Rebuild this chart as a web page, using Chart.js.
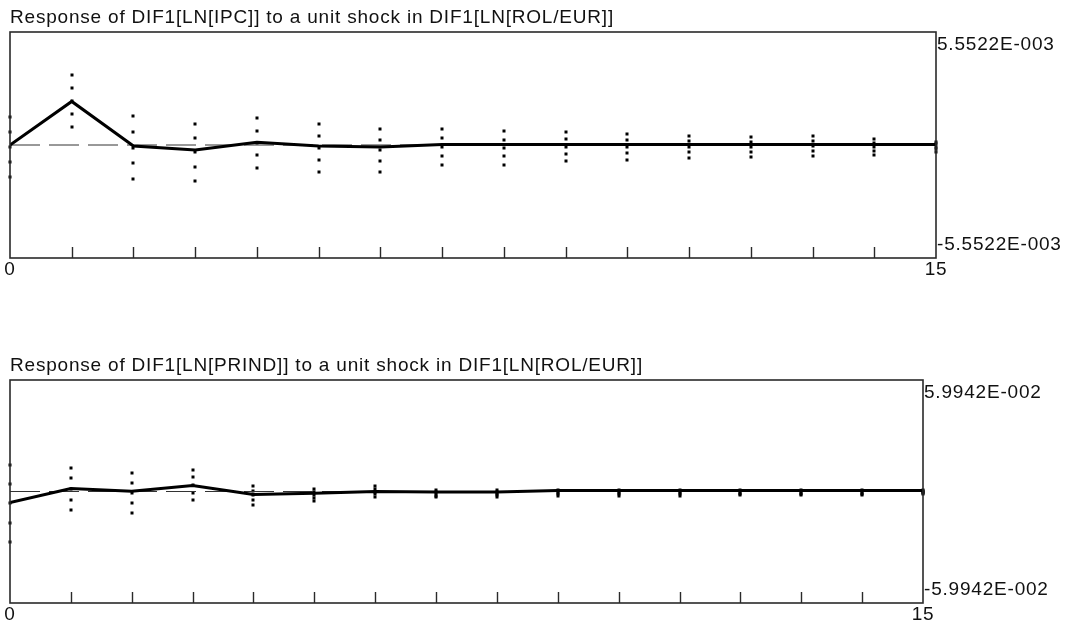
<!DOCTYPE html>
<html>
<head>
<meta charset="utf-8">
<script src="https://cdn.jsdelivr.net/npm/chart.js@4.4.0/dist/chart.umd.min.js"></script>
<style>
    html, body { margin: 0; padding: 0; background: #fff; }
    body { width: 1079px; height: 628px; position: relative; overflow: hidden; }
    .panel { position: absolute; left: 0; width: 1079px; }
    #topPanel { top: 0; height: 300px; }
    #bottomPanel { top: 300px; height: 328px; }
</style>
</head>
<body>
<div class="panel" id="topPanel"><canvas id="ipcChart" width="1079" height="300"></canvas></div>
<div class="panel" id="bottomPanel"><canvas id="prindChart" width="1079" height="328"></canvas></div>
<script>
// Horizons 0..15 and the two labelled x ticks
const horizons = [0, 1, 2, 3, 4, 5, 6, 7, 8, 9, 10, 11, 12, 13, 14, 15];
const xLabels = [0, 15];

// Response of DIF1[LN[IPC]]
const ipcTitle = 'Response of DIF1[LN[IPC]] to a unit shock in DIF1[LN[ROL/EUR]]';
const ipcLimit = 5.5522e-3;
const ipcResponse = [0, 0.00214, -0.00005, -0.00024, 0.00013, -0.00005, -0.0001, 0.00002,
    0.00002, 0.00002, 0.00002, 0.00002, 0.00002, 0.00002, 0.00002, 0.00002];
const ipcUpper = [0.00136, 0.00346, 0.00141, 0.00102, 0.00131, 0.00102, 0.00078, 0.00078,
    0.00068, 0.00063, 0.00054, 0.00044, 0.00039, 0.00042, 0.00029, 0.00017];
const ipcLower = [-0.00156, 0.00088, -0.00166, -0.00175, -0.00112, -0.00131, -0.00131, -0.00097,
    -0.00097, -0.00078, -0.00073, -0.00063, -0.00058, -0.00054, -0.00049, -0.00034];

// Response of DIF1[LN[PRIND]]
const prindTitle = 'Response of DIF1[LN[PRIND]] to a unit shock in DIF1[LN[ROL/EUR]]';
const prindLimit = 5.9942e-2;
const prindResponse = [-0.0059, 0.0016, 0.0002, 0.0032, -0.0016, -0.001, 0, -0.0003,
    -0.0003, 0.0005, 0.0005, 0.0005, 0.0005, 0.0005, 0.0005, 0.0005];
const prindUpper = [0.0144, 0.0128, 0.0101, 0.0117, 0.0032, 0.0016, 0.0027, 0.0006,
    0.0006, 0.0008, 0.0008, 0.0008, 0.0008, 0.0008, 0.0008, 0.0008];
const prindLower = [-0.0272, -0.0101, -0.0117, -0.0048, -0.0075, -0.0053, -0.0027, -0.0032,
    -0.003, -0.0023, -0.0022, -0.0023, -0.002, -0.002, -0.002, -0.0015];

const FONT = 'Liberation Sans, Arial, sans-serif';
const INK = '#111';

/**
 * 5.5522e-3 -> 5.5522E-003
 */
function sci(v) {
    const parts = Math.abs(v).toExponential(4).split('e');
    const exp = parseInt(parts[1], 10);
    return (v < 0 ? '-' : '') + parts[0] + 'E' + (exp < 0 ? '-' : '+') + String(Math.abs(exp)).padStart(3, '0');
}

/**
 * Plugin: dotted confidence bars, frame box, inner x ticks and right-hand limit labels
 */
function makeFrame(upper, lower) {
    return {
        id: 'frame',
        beforeUpdate(chart) {
            chart.ctx.letterSpacing = '0.8px';
        },
        beforeDraw(chart) {
            chart.ctx.letterSpacing = '0.8px';
        },
        beforeDatasetsDraw(chart) {
            const { ctx, scales: { x, y } } = chart;
            ctx.save();
            ctx.fillStyle = '#000';
            horizons.forEach((h, i) => {
                const px = Math.round(x.getPixelForValue(h));
                const pu = y.getPixelForValue(upper[i]);
                const pl = y.getPixelForValue(lower[i]);
                for (let k = 0; k < 5; k++) {
                    const py = Math.round(pu + (pl - pu) * k / 4);
                    ctx.fillRect(px - 1.5, py - 1.5, 3, 3);
                }
            });
            ctx.restore();
        },
        afterDraw(chart) {
            const { ctx, chartArea: a, scales: { x, y } } = chart;
            ctx.save();
            ctx.strokeStyle = '#2a2a2a';
            ctx.lineWidth = 1.6;
            ctx.strokeRect(a.left, a.top, a.right - a.left, a.bottom - a.top);

            // inner ticks pointing up from the bottom edge
            ctx.lineWidth = 1.4;
            ctx.beginPath();
            x.ticks.forEach(t => {
                if (t.value <= x.min || t.value >= x.max) return;
                const px = Math.round(x.getPixelForValue(t.value)) + 0.5;
                ctx.moveTo(px, a.bottom);
                ctx.lineTo(px, a.bottom - 11);
            });
            ctx.stroke();

            // limit labels on the right
            ctx.fillStyle = INK;
            ctx.font = '19px ' + FONT;
            ctx.textAlign = 'left';
            ctx.textBaseline = 'middle';
            ctx.fillText(sci(y.max), a.right + 1, a.top + 13);
            ctx.fillText(sci(y.min), a.right + 1, a.bottom - 13);
            ctx.restore();
        }
    };
}

/**
 * Build one impulse response panel
 */
function createPanel(canvasId, title, response, upper, lower, limit, pad) {
    const ctx = document.getElementById(canvasId).getContext('2d');

    return new Chart(ctx, {
        type: 'line',
        data: {
            datasets: [{
                label: 'response',
                data: horizons.map((h, i) => ({ x: h, y: response[i] })),
                borderColor: '#000',
                borderWidth: 3,
                pointRadius: 0,
                tension: 0
            }, {
                label: 'zero',
                data: [{ x: horizons[0], y: 0 }, { x: horizons[horizons.length - 1], y: 0 }],
                borderColor: '#333',
                borderWidth: 1,
                borderDash: [30, 9],
                pointRadius: 0
            }]
        },
        options: {
            responsive: false,
            animation: false,
            events: [],
            layout: {
                padding: pad
            },
            plugins: {
                legend: { display: false },
                tooltip: { enabled: false },
                title: {
                    display: true,
                    text: title,
                    align: 'start',
                    color: INK,
                    font: { family: FONT, size: 19, weight: 'normal', lineHeight: 1.2 },
                    padding: { top: pad.titleTop, bottom: 3.2 }
                }
            },
            scales: {
                x: {
                    type: 'linear',
                    min: horizons[0],
                    max: horizons[horizons.length - 1],
                    grid: { display: false, drawTicks: false },
                    border: { display: false },
                    ticks: {
                        stepSize: 1,
                        autoSkip: false,
                        maxRotation: 0,
                        padding: 2,
                        color: INK,
                        font: { family: FONT, size: 19, lineHeight: 1 },
                        callback: function(value) {
                            return xLabels.includes(value) ? String(value) : '';
                        }
                    }
                },
                y: {
                    display: false,
                    min: -limit,
                    max: limit
                }
            }
        },
        plugins: [makeFrame(upper, lower)]
    });
}

createPanel('ipcChart', ipcTitle, ipcResponse, ipcUpper, ipcLower, ipcLimit,
    { left: 10, right: 143, top: 0, bottom: 19, titleTop: 6 });
createPanel('prindChart', prindTitle, prindResponse, prindUpper, prindLower, prindLimit,
    { left: 10, right: 156, top: 0, bottom: 2, titleTop: 54 });
</script>
</body>
</html>
